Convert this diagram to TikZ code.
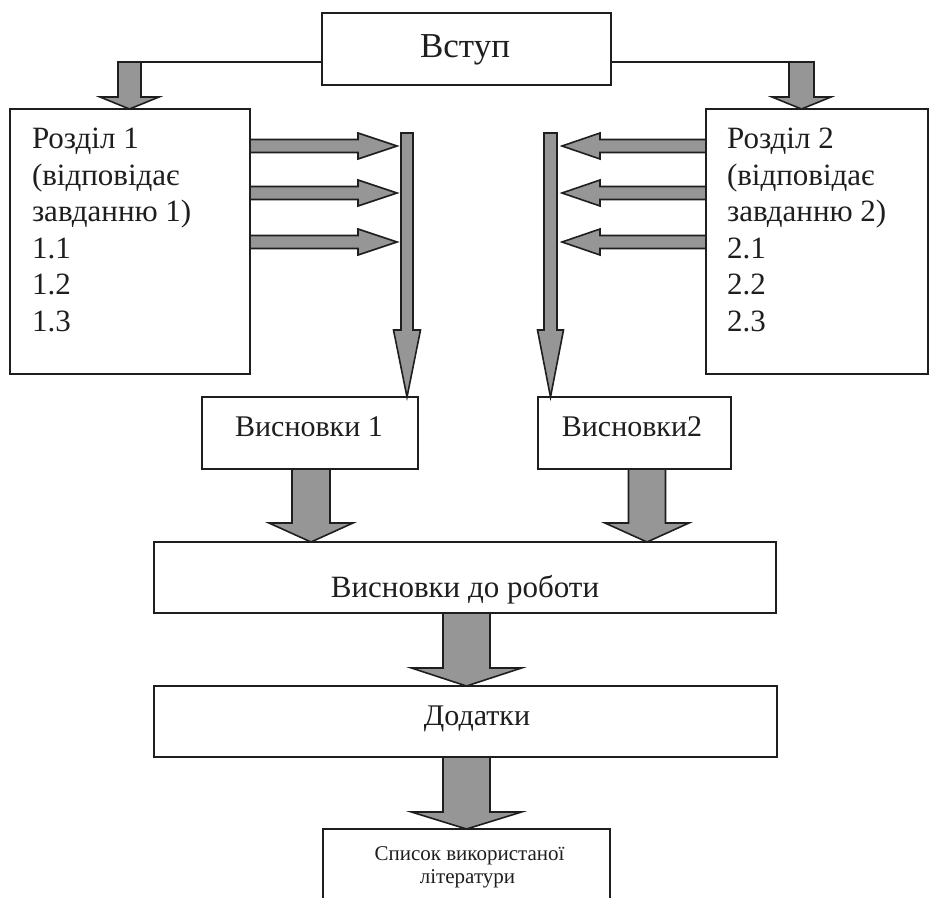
\documentclass[tikz,border=0pt]{standalone}
\usepackage{fontspec}
\setmainfont{Liberation Serif}
\usetikzlibrary{calc}
\definecolor{agray}{RGB}{150,150,150}
\definecolor{ink}{RGB}{30,30,30}
\tikzset{
  boxnode/.style={draw=ink, line width=1.8pt, fill=white, inner sep=0pt, outer sep=0pt},
  barrow/.style={draw=ink, line width=1.6pt, fill=agray, line join=miter},
  conn/.style={draw=ink, line width=1.8pt},
  txt/.style={inner sep=0pt, outer sep=0pt, text=ink},
  bigtxt/.style={txt, font=\fontsize{35}{40}\selectfont},
  midtxt/.style={txt, font=\fontsize{30}{36.5}\selectfont},
  listtxt/.style={txt, font=\fontsize{31}{36.5}\selectfont},
  widetxt/.style={txt, font=\fontsize{31}{36.5}\selectfont},
  smalltxt/.style={txt, font=\fontsize{21}{23}\selectfont},
}
% vertical block arrow: x and top from #1, tip y from #2, shaft half, head half, head length
\newcommand\vblock[5]{%
  \draw[barrow] let \p1=#1, \p2=#2 in
    ({\x1-#3pt},{\y1}) -- ({\x1+#3pt},{\y1}) -- ({\x1+#3pt},{\y2+(#5pt)}) -- ({\x1+#4pt},{\y2+(#5pt)})
    -- ({\x1},{\y2}) -- ({\x1-#4pt},{\y2+(#5pt)}) -- ({\x1-#3pt},{\y2+(#5pt)}) -- cycle;}
% horizontal block arrow: y and start from #1, tip x from #2, shaft half, head half, signed head length
\newcommand\hblock[5]{%
  \draw[barrow] let \p1=#1, \p2=#2 in
    ({\x1},{\y1+#3pt}) -- ({\x2-(#5pt)},{\y1+#3pt}) -- ({\x2-(#5pt)},{\y1+#4pt}) -- ({\x2},{\y1})
    -- ({\x2-(#5pt)},{\y1-#4pt}) -- ({\x2-(#5pt)},{\y1-#3pt}) -- ({\x1},{\y1-#3pt}) -- cycle;}
\begin{document}
\begin{tikzpicture}[x=1pt,y=1pt]
\useasboundingbox (0,0) rectangle (933,-897);
\fill[white] (0,0) rectangle (933,-897);

% boxes
\node[boxnode, minimum width=289, minimum height=72] (vstup) at (466.5,-49) {};
\node[boxnode, minimum width=240, minimum height=265] (r1) at (130,-241.5) {};
\node[boxnode, minimum width=222, minimum height=265] (r2) at (817,-241.5) {};
\node[boxnode, minimum width=216, minimum height=72] (v1) at (310,-433) {};
\node[boxnode, minimum width=193, minimum height=72] (v2) at (634.5,-433) {};
\node[boxnode, minimum width=622, minimum height=71] (vr) at (465,-577.5) {};
\node[boxnode, minimum width=623, minimum height=71] (dod) at (465.5,-721.5) {};
\node[inner sep=0pt, outer sep=0pt, minimum width=287, minimum height=90, anchor=north] (lit) at (466.5,-829) {};
\draw[conn] (lit.south west) -- (lit.north west) -- (lit.north east) -- (lit.south east);

% texts
\node[bigtxt, anchor=base] (vstupt) at (465,-57) {Вступ};
\node[listtxt, anchor=north west, align=left] (r1t) at (32,-128)
  {Розділ 1\\(відповідає\\завданню 1)\\1.1\\1.2\\1.3};
\node[listtxt, anchor=north west, align=left] (r2t) at (727,-128)
  {Розділ 2\\(відповідає\\завданню 2)\\2.1\\2.2\\2.3};
\node[midtxt, anchor=base] (v1t) at (309,-436) {Висновки 1};
\node[midtxt, anchor=base] (v2t) at (632,-436) {Висновки2};
\node[widetxt, anchor=base] (vrt) at (465,-597) {Висновки до роботи};
\node[midtxt, anchor=base] (dodt) at (477,-725) {Додатки};
\node[smalltxt, anchor=base] (lit1) at (469.5,-860) {Список використаної};
\node[smalltxt, anchor=base] (lit2) at (467.5,-883) {літератури};

% top connectors from Вступ
\coordinate (la) at (129.5,-62);
\coordinate (ra) at (801.5,-62);
\draw[conn] ([yshift=-13pt]vstup.west) -- ([xshift=-11.5pt]la);
\draw[conn] ([yshift=-13pt]vstup.east) -- ([xshift=12.5pt]ra);
\vblock{(la)}{(la |- r1.north)}{11.5}{29.5}{12}
\vblock{(ra)}{(ra |- r2.north)}{12.5}{29.5}{12}

% left side arrows
\coordinate (lt1) at (397,-146);
\coordinate (lt2) at (397,-193);
\coordinate (lt3) at (397,-242);
\hblock{(r1.east |- lt1)}{(lt1)}{6.5}{13}{39}
\hblock{(r1.east |- lt2)}{(lt2)}{6.5}{13}{39}
\hblock{(r1.east |- lt3)}{(lt3)}{6.5}{13}{39}
\coordinate (lb) at (407,-133);
\vblock{(lb)}{(lb |- v1.north)}{6}{13.5}{67}

% right side arrows
\coordinate (rt1) at (562,-146);
\coordinate (rt2) at (562,-193);
\coordinate (rt3) at (562,-242);
\hblock{(r2.west |- rt1)}{(rt1)}{6.5}{13}{-38}
\hblock{(r2.west |- rt2)}{(rt2)}{6.5}{13}{-38}
\hblock{(r2.west |- rt3)}{(rt3)}{6.5}{13}{-38}
\coordinate (rb) at (550.5,-133);
\vblock{(rb)}{(rb |- v2.north)}{6.5}{13}{67}

% lower arrows
\vblock{([xshift=1pt]v1.south)}{(vr.north)}{19}{42}{19}
\vblock{([xshift=12.5pt]v2.south)}{(vr.north)}{18.5}{42}{19}
\vblock{([xshift=1.5pt]vr.south)}{(dod.north)}{23.5}{55}{18}
\vblock{([xshift=1pt]dod.south)}{(lit.north)}{23.5}{55}{17}
\end{tikzpicture}
\end{document}
